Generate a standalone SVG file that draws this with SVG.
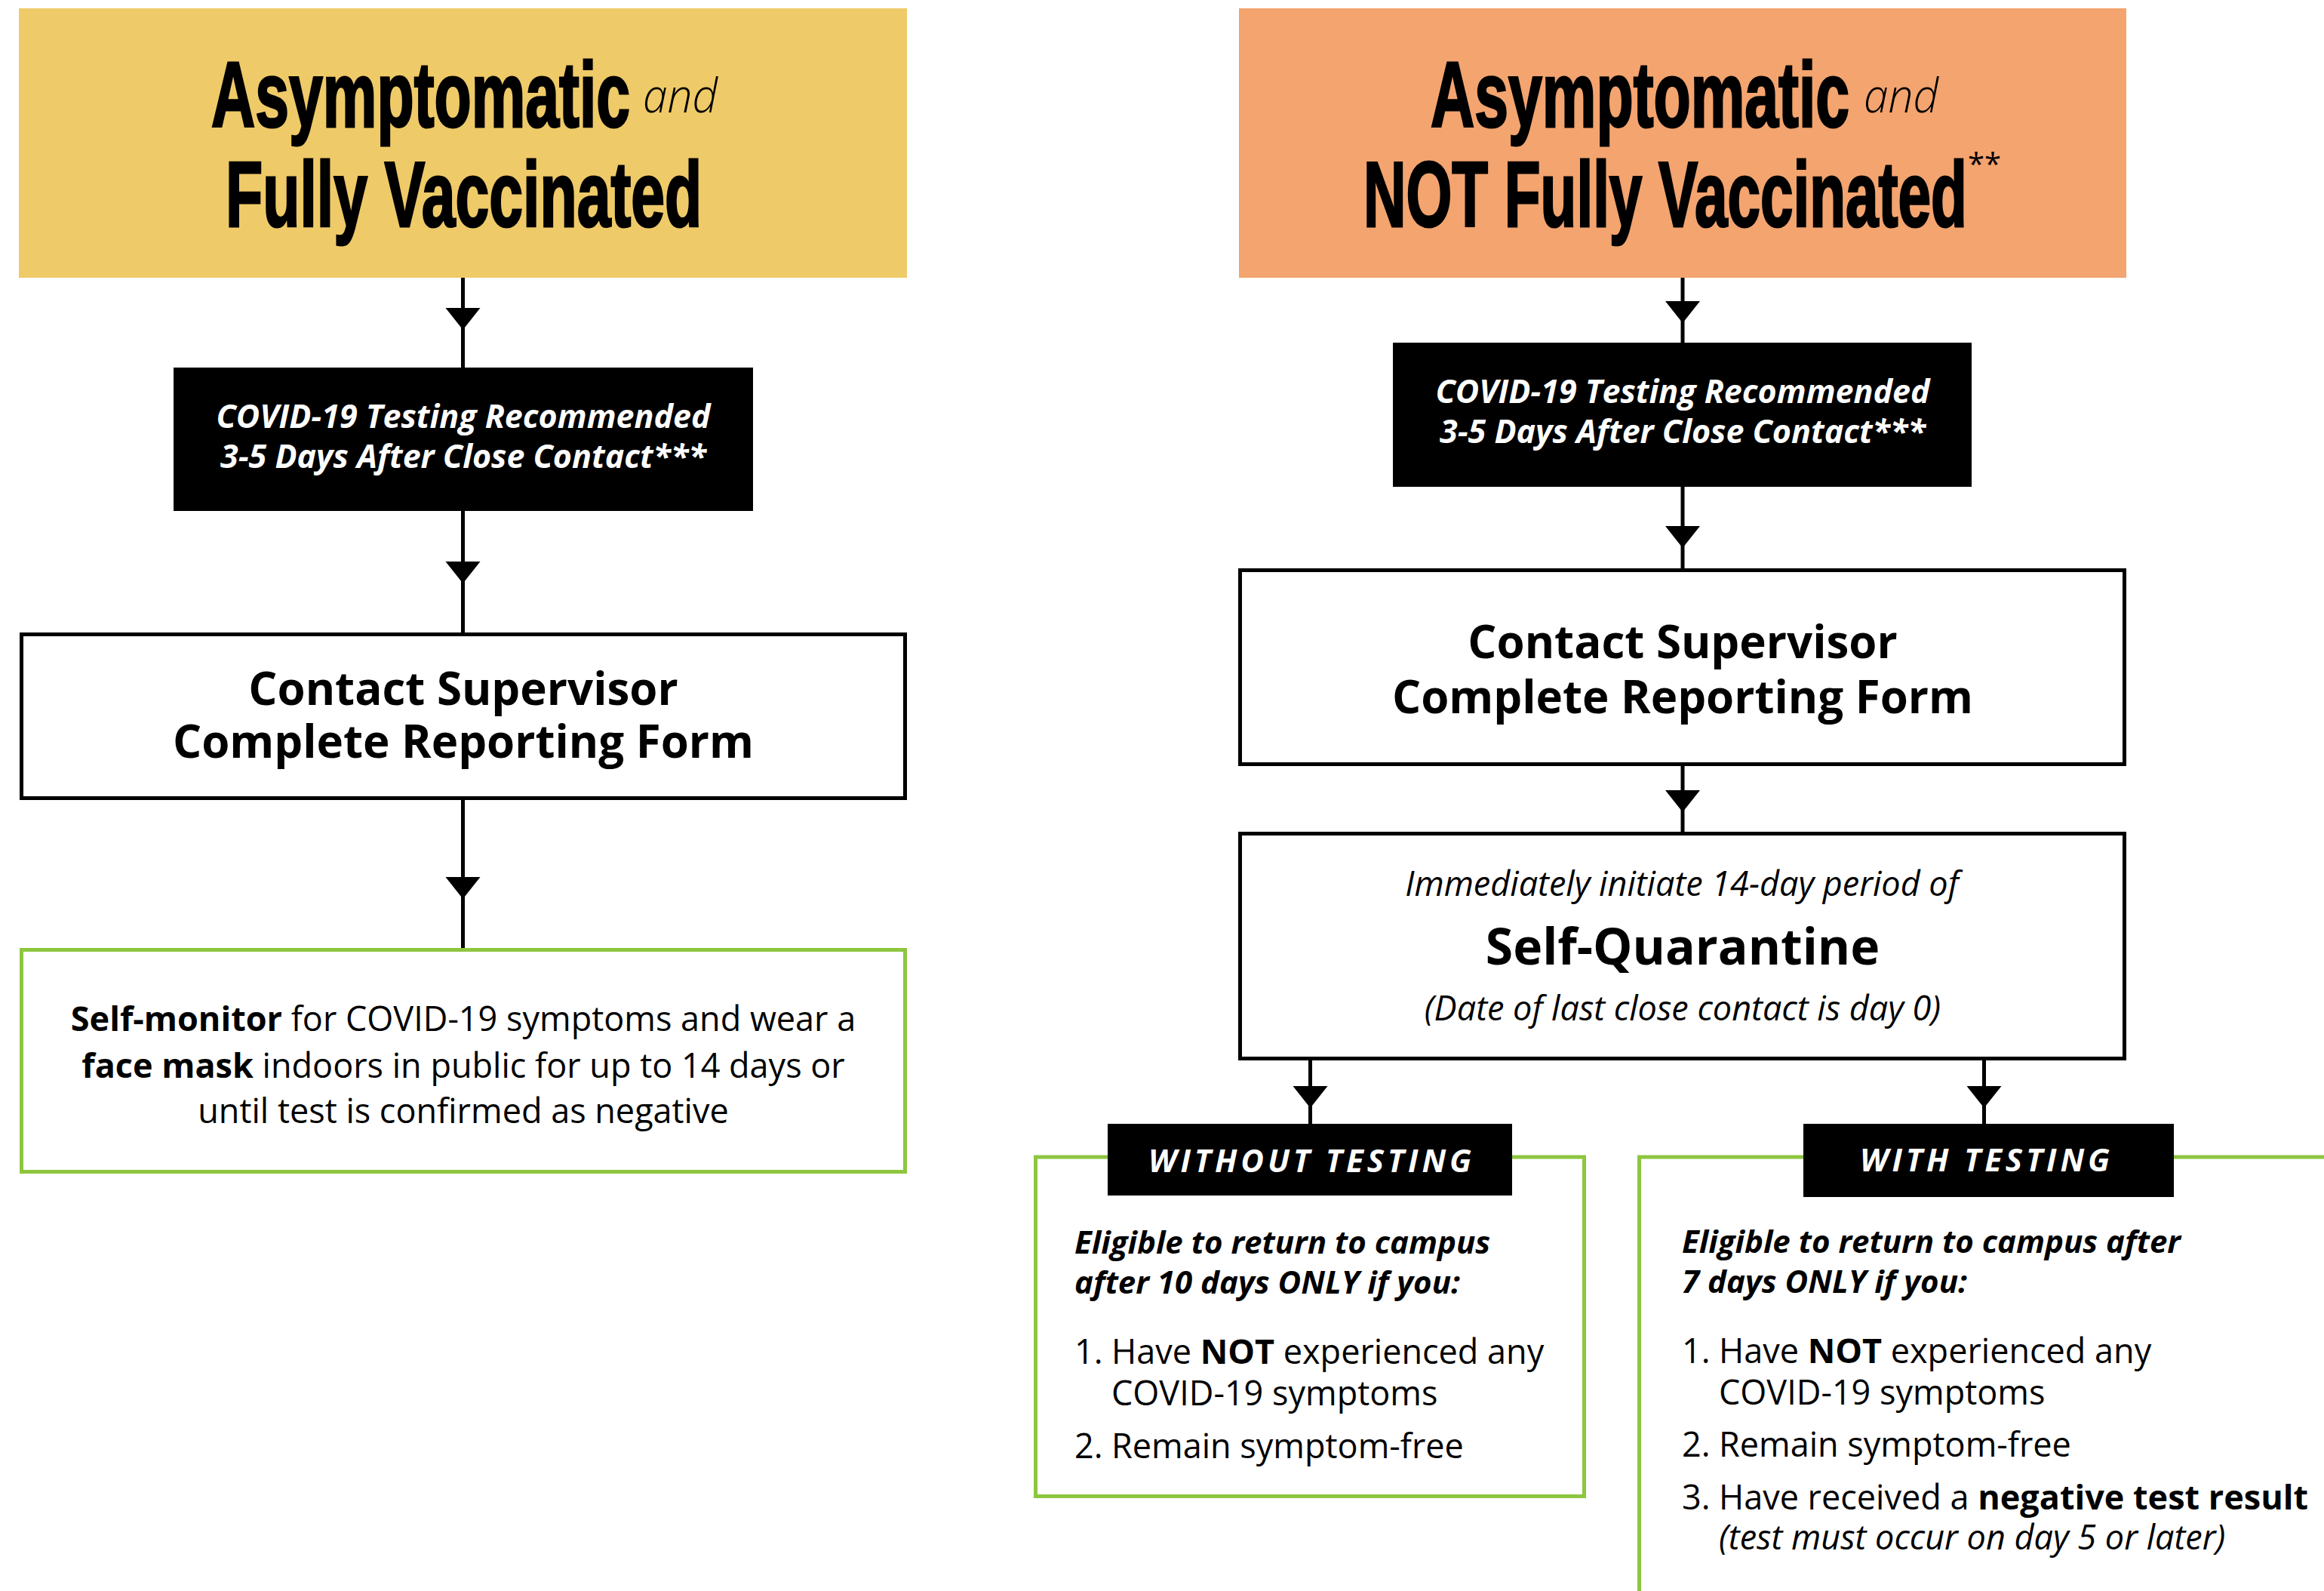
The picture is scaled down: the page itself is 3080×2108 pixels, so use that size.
<svg xmlns="http://www.w3.org/2000/svg" xmlns:xlink="http://www.w3.org/1999/xlink" width="3080" height="2108" viewBox="0 0 3080 2108">
<defs>
<style>
.hd{font-family:"Liberation Sans",Arial,sans-serif;font-weight:700;font-size:123px;fill:#000;stroke:#000;stroke-width:3;stroke-linejoin:miter}
.and{font-family:"Open Sans","Noto Sans",sans-serif;font-style:italic;font-weight:300;font-size:62px;fill:#000}
.ast{font-family:"Open Sans","Noto Sans",sans-serif;font-weight:400;font-size:40px;fill:#000}
.bb{font-family:"Open Sans","Noto Sans",sans-serif;font-style:italic;font-weight:700;font-size:43px;fill:#fff;text-anchor:middle}
.cs{font-family:"Open Sans","Noto Sans",sans-serif;font-weight:700;font-size:60px;fill:#000;text-anchor:middle}
.body{font-family:"Open Sans","Noto Sans",sans-serif;font-weight:400;font-size:45px;fill:#000}
.mid{text-anchor:middle}
.b{font-weight:700}
.it{font-style:italic}
.sq{font-family:"Open Sans","Noto Sans",sans-serif;font-weight:700;font-size:66px;fill:#000;text-anchor:middle}
.lab{font-family:"Open Sans","Noto Sans",sans-serif;font-style:italic;font-weight:700;font-size:42px;fill:#fff}
.el{font-family:"Open Sans","Noto Sans",sans-serif;font-style:italic;font-weight:700;font-size:42px;fill:#000}
.box{fill:#fff;stroke:#000;stroke-width:5}
.gbox{fill:#fff;stroke:#8DC63F;stroke-width:5}
.blk{fill:#000}
.con{stroke:#000;stroke-width:5;fill:none}
</style>
<path id="ah" d="M-23,0 L23,0 L0,29 Z" fill="#000"/>
</defs>
<rect width="3080" height="2108" fill="#fff"/>

<g id="connectors">
<line class="con" x1="613.5" y1="368" x2="613.5" y2="488"/>
<use xlink:href="#ah" x="613.5" y="408"/>
<line class="con" x1="613.5" y1="676" x2="613.5" y2="839"/>
<use xlink:href="#ah" x="613.5" y="744"/>
<line class="con" x1="613.5" y1="1059" x2="613.5" y2="1257"/>
<use xlink:href="#ah" x="613.5" y="1162"/>
<line class="con" x1="2230" y1="368" x2="2230" y2="455"/>
<use xlink:href="#ah" x="2230" y="399"/>
<line class="con" x1="2230" y1="645" x2="2230" y2="754"/>
<use xlink:href="#ah" x="2230" y="697"/>
<line class="con" x1="2230" y1="1014" x2="2230" y2="1103"/>
<use xlink:href="#ah" x="2230" y="1047"/>
<line class="con" x1="1736.5" y1="1404" x2="1736.5" y2="1490"/>
<use xlink:href="#ah" x="1736.5" y="1439"/>
<line class="con" x1="2629.5" y1="1404" x2="2629.5" y2="1490"/>
<use xlink:href="#ah" x="2629.5" y="1439"/>
</g>

<g id="head-left">
<rect x="25" y="11" width="1177" height="357" fill="#EFCA68"/>
<text class="hd" transform="translate(280,168) scale(0.655,1)">Asymptomatic</text>
<text class="and" x="852" y="149" textLength="99" lengthAdjust="spacingAndGlyphs">and</text>
<text class="hd" transform="translate(299,300) scale(0.655,1)">Fully Vaccinated</text>
</g>

<g id="head-right">
<rect x="1642" y="11" width="1176" height="357" fill="#F3A46F"/>
<text class="hd" transform="translate(1896,168) scale(0.655,1)">Asymptomatic</text>
<text class="and" x="2470" y="149" textLength="99" lengthAdjust="spacingAndGlyphs">and</text>
<text class="hd" transform="translate(1807,300) scale(0.636,1)">NOT Fully Vaccinated</text>
<text class="ast" x="2608" y="232">**</text>
</g>

<g id="test-left">
<rect class="blk" x="230" y="487" width="768" height="190"/>
<text class="bb" x="614" y="567">COVID-19 Testing Recommended</text>
<text class="bb" x="614" y="620">3-5 Days After Close Contact***</text>
</g>

<g id="test-right">
<rect class="blk" x="1846" y="454" width="767" height="191"/>
<text class="bb" x="2230" y="534">COVID-19 Testing Recommended</text>
<text class="bb" x="2230" y="587">3-5 Days After Close Contact***</text>
</g>

<g id="contact-left">
<rect class="box" x="28.5" y="840.5" width="1171" height="217"/>
<text class="cs" x="614" y="934">Contact Supervisor</text>
<text class="cs" x="614" y="1004">Complete Reporting Form</text>
</g>

<g id="contact-right">
<rect class="box" x="1643.5" y="755.5" width="1172" height="257"/>
<text class="cs" x="2230" y="872">Contact Supervisor</text>
<text class="cs" x="2230" y="945">Complete Reporting Form</text>
</g>

<g id="monitor-left">
<rect class="gbox" x="28.5" y="1258.5" width="1171" height="294"/>
<text class="body mid" x="614" y="1366"><tspan class="b">Self-monitor</tspan> for COVID-19 symptoms and wear a</text>
<text class="body mid" x="614" y="1428"><tspan class="b">face mask</tspan> indoors in public for up to 14 days or</text>
<text class="body mid" x="614" y="1488">until test is confirmed as negative</text>
</g>

<g id="quarantine">
<rect class="box" x="1643.5" y="1104.5" width="1172" height="298"/>
<text class="body it mid" x="2229" y="1187">Immediately initiate 14-day period of</text>
<text class="sq" x="2230" y="1278">Self-Quarantine</text>
<text class="body it mid" x="2230" y="1352">(Date of last close contact is day 0)</text>
</g>

<g id="without-testing">
<rect class="gbox" x="1372.5" y="1533" width="727" height="449.5"/>
<rect class="blk" x="1468" y="1489" width="536" height="95"/>
<text class="lab" x="1522" y="1553" textLength="428" lengthAdjust="spacing">WITHOUT TESTING</text>
<text class="el" x="1424" y="1661">Eligible to return to campus</text>
<text class="el" x="1424" y="1714">after 10 days ONLY if you:</text>
<text class="body" x="1424" y="1807">1.</text>
<text class="body" x="1473" y="1807">Have <tspan class="b">NOT</tspan> experienced any</text>
<text class="body" x="1473" y="1862">COVID-19 symptoms</text>
<text class="body" x="1424" y="1932">2.</text>
<text class="body" x="1473" y="1932">Remain symptom-free</text>
</g>

<g id="with-testing">
<rect class="gbox" x="2172.5" y="1533" width="1000" height="700"/>
<rect class="blk" x="2390" y="1489" width="491" height="97"/>
<text class="lab" x="2465" y="1552" textLength="331" lengthAdjust="spacing">WITH TESTING</text>
<text class="el" x="2229" y="1660">Eligible to return to campus after</text>
<text class="el" x="2229" y="1713">7 days ONLY if you:</text>
<text class="body" x="2229" y="1806">1.</text>
<text class="body" x="2278" y="1806">Have <tspan class="b">NOT</tspan> experienced any</text>
<text class="body" x="2278" y="1861">COVID-19 symptoms</text>
<text class="body" x="2229" y="1930">2.</text>
<text class="body" x="2278" y="1930">Remain symptom-free</text>
<text class="body" x="2229" y="2000">3.</text>
<text class="body" x="2278" y="2000">Have received a <tspan class="b">negative test result</tspan></text>
<text class="body it" x="2278" y="2053">(test must occur on day 5 or later)</text>
</g>
</svg>
